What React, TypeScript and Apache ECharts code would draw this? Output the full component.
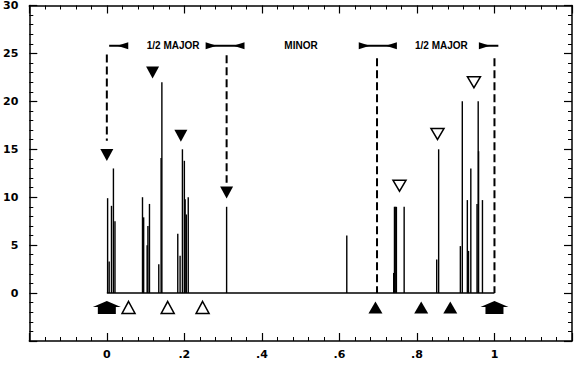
import React, { useEffect, useRef } from "react";
import * as echarts from "echarts";

// Spectral line positions and heights
const lineX = [
  0.002, 0.006, 0.012, 0.017, 0.021,
  0.092, 0.095, 0.104, 0.106, 0.11,
  0.134, 0.14, 0.142,
  0.183, 0.189, 0.195, 0.2, 0.202, 0.205, 0.21,
  0.309,
  0.619,
  0.74, 0.742, 0.744, 0.747, 0.767,
  0.851, 0.856,
  0.912, 0.917, 0.93, 0.933, 0.939, 0.955, 0.958, 0.959, 0.969,
];
const lineH = [
  9.9, 3.3, 9.1, 13, 7.5,
  10, 7.9, 5, 7, 9.3,
  3, 14.1, 22,
  6.2, 3.9, 15, 13.8, 9.8, 8.2, 10,
  9,
  6,
  2.1, 9, 9, 9, 9,
  3.5, 15,
  4.9, 20, 9.7, 4.4, 13, 9.3, 20, 14.8, 9.7,
];

// Baseline
const baseX = [0, 1];
const baseY = [0, 0];

// Dashed boundary lines
const dashX = [0, 0.309, 0.697, 1];
const dashTop = [24.9, 24.8, 24.5, 24.5];
const dashBottom = [15.9, 11.5, 0, 0];

// Markers
const filledDownX = [0, 0.118, 0.191, 0.309];
const filledDownY = [14.4, 23, 16.4, 10.5];
const openDownX = [0.755, 0.853, 0.947];
const openDownY = [11.2, 16.6, 22];
const openUpX = [0.056, 0.157, 0.247];
const filledUpX = [0.693, 0.811, 0.886];
const houseX = [0, 1];
const lowMarkY = -1.5;

// Annotation band
const annotY = 25.8;
const annotLabels = ["1/2 MAJOR", "MINOR", "1/2 MAJOR"];
const annotLabelX = [0.171, 0.501, 0.863];
const annotSegStart = [0.006, 0.269, 0.664, 0.974];
const annotSegEnd = [0.041, 0.341, 0.734, 1.01];
const leftHeadX = [0.041, 0.341, 0.734];
const rightHeadX = [0.269, 0.664, 0.974];

// Axis ticks
const xTickLabels: Record<string, string> = { "0": "0", "0.2": ".2", "0.4": ".4", "0.6": ".6", "0.8": ".8", "1": "1" };
const yTickLabels = [0, 5, 10, 15, 20, 25, 30];

const FONT = "DejaVu Sans";

export default function App() {
  const ref = useRef<HTMLDivElement>(null);
  useEffect(() => {
    if (!ref.current) return;
    const chart = echarts.init(ref.current, null, { renderer: "svg" });

    const tickCommon = {
      axisLine: { show: true, onZero: false, lineStyle: { color: "#000", width: 1.5 } },
      axisTick: { show: true, inside: true, length: 8, lineStyle: { color: "#000", width: 1.2 } },
      minorTick: { show: true, splitNumber: 5, length: 4, lineStyle: { color: "#000", width: 1 } },
      splitLine: { show: false },
    };

    const xLabel = {
      show: true,
      margin: 8,
      color: "#000",
      fontSize: 11,
      fontWeight: "bold",
      fontFamily: FONT,
      formatter: (v: number) => {
        const r = Math.round(v * 10) / 10;
        return xTickLabels[String(r)] ?? "";
      },
    };
    const yLabel = {
      show: true,
      margin: 11,
      color: "#000",
      fontSize: 11,
      fontWeight: "bold",
      fontFamily: FONT,
      formatter: (v: number) => {
        const r = Math.round(v);
        return yTickLabels.indexOf(r) >= 0 ? String(r) : "";
      },
    };

    const vertical = (params: any, api: any) => {
      const x = api.value(0);
      const h = api.value(1);
      const p0 = api.coord([x, 0]);
      const p1 = api.coord([x, h]);
      return {
        type: "line",
        shape: { x1: p0[0], y1: p0[1], x2: p1[0], y2: p1[1] },
        style: { stroke: "#000", lineWidth: 1.4 },
      };
    };

    const black = { color: "#000", opacity: 1 };
    const hollow = { color: "#fff", borderColor: "#000", borderWidth: 1.5, opacity: 1 };

    const option: any = {
      animation: false,
      backgroundColor: "#fff",
      grid: { left: 28, right: 8, top: 5, bottom: 25 },
      xAxis: [
        { type: "value", min: -0.2, max: 1.2, interval: 0.2, position: "bottom", ...tickCommon, axisLabel: xLabel },
        { type: "value", min: -0.2, max: 1.2, interval: 0.2, position: "top", ...tickCommon, axisLabel: { show: false } },
      ],
      yAxis: [
        { type: "value", min: -5, max: 30, interval: 5, position: "left", ...tickCommon, axisLabel: yLabel },
        { type: "value", min: -5, max: 30, interval: 5, position: "right", ...tickCommon, axisLabel: { show: false } },
      ],
      series: [
        {
          type: "line",
          data: baseX.map((x, i) => [x, baseY[i]]),
          symbol: "none",
          lineStyle: { color: "#000", width: 1.5 },
        },
        {
          type: "custom",
          renderItem: vertical,
          data: lineX.map((x, i) => [x, lineH[i]]),
          encode: { x: 0, y: 1 },
        },
        {
          type: "custom",
          renderItem: (params: any, api: any) => {
            const x = api.value(0);
            const p0 = api.coord([x, api.value(1)]);
            const p1 = api.coord([x, api.value(2)]);
            return {
              type: "line",
              shape: { x1: p0[0], y1: p0[1], x2: p1[0], y2: p1[1] },
              style: { stroke: "#000", lineWidth: 2, lineDash: [8, 4] },
            };
          },
          data: dashX.map((x, i) => [x, dashTop[i], dashBottom[i]]),
          encode: { x: 0, y: [1, 2] },
        },
        {
          type: "custom",
          renderItem: (params: any, api: any) => {
            const p0 = api.coord([api.value(0), api.value(2)]);
            const p1 = api.coord([api.value(1), api.value(2)]);
            return {
              type: "line",
              shape: { x1: p0[0], y1: p0[1], x2: p1[0], y2: p1[1] },
              style: { stroke: "#000", lineWidth: 2 },
            };
          },
          data: annotSegStart.map((x, i) => [x, annotSegEnd[i], annotY]),
          encode: { x: [0, 1], y: 2 },
        },
        {
          type: "scatter",
          data: leftHeadX.map((x) => [x, annotY]),
          symbol: "triangle",
          symbolRotate: 90,
          symbolSize: [7, 11],
          itemStyle: black,
        },
        {
          type: "scatter",
          data: rightHeadX.map((x) => [x, annotY]),
          symbol: "triangle",
          symbolRotate: -90,
          symbolSize: [7, 11],
          itemStyle: black,
        },
        {
          type: "scatter",
          data: annotLabelX.map((x, i) => ({ name: annotLabels[i], value: [x, annotY] })),
          symbolSize: 0,
          itemStyle: black,
          label: {
            show: true,
            position: "inside",
            formatter: (p: any) => p.name,
            color: "#000",
            fontSize: 10,
            fontWeight: "bold",
            fontFamily: "Liberation Sans",
          },
        },
        {
          type: "scatter",
          data: filledDownX.map((x, i) => [x, filledDownY[i]]),
          symbol: "triangle",
          symbolRotate: 180,
          symbolSize: [13, 12],
          itemStyle: black,
        },
        {
          type: "scatter",
          data: openDownX.map((x, i) => [x, openDownY[i]]),
          symbol: "triangle",
          symbolRotate: 180,
          symbolSize: [13, 11],
          itemStyle: hollow,
        },
        {
          type: "scatter",
          data: openUpX.map((x) => [x, lowMarkY]),
          symbol: "triangle",
          symbolSize: [13, 12],
          itemStyle: hollow,
        },
        {
          type: "scatter",
          data: filledUpX.map((x) => [x, lowMarkY]),
          symbol: "triangle",
          symbolSize: [14, 12],
          itemStyle: black,
        },
        {
          type: "scatter",
          data: houseX.map((x) => [x, lowMarkY]),
          symbol: "path://M14,0L28,6L23,6L23,13L5,13L5,6L0,6Z",
          symbolSize: [28, 13],
          itemStyle: black,
        },
      ],
    };
    chart.setOption(option);
    return () => chart.dispose();
  }, []);
  return (
    <div
      ref={ref}
      style={{ position: "fixed", left: 0, top: 0, width: 580, height: 366, background: "#fff" }}
    />
  );
}
